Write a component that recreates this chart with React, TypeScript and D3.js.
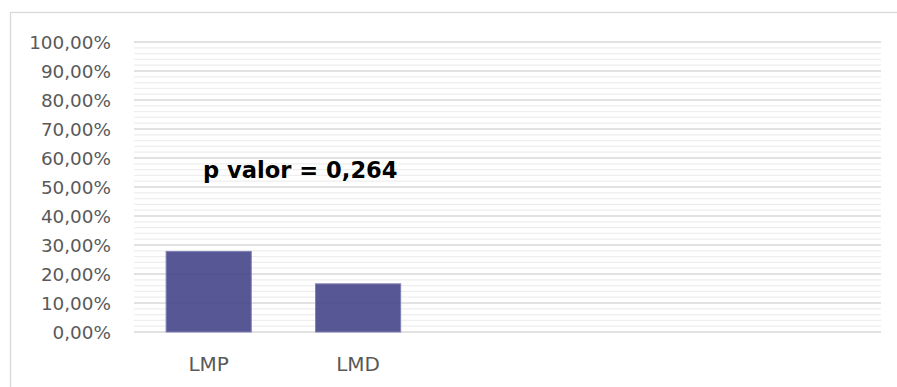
import React, { useEffect, useRef } from 'react';
import * as d3 from 'd3';

// chart data
const categories = ['LMP', 'LMD', '', '', ''];
const values = [0.278, 0.166];
const yTicks = [0, 0.1, 0.2, 0.3, 0.4, 0.5, 0.6, 0.7, 0.8, 0.9, 1.0];
const annotation = 'p valor = 0,264';

const W = 897;
const H = 387;

const App: React.FC = () => {
  const svgRef = useRef<SVGSVGElement>(null);

  useEffect(() => {
    if (!svgRef.current) return;
    const svg = d3.select(svgRef.current);
    svg.selectAll('*').remove();

    const margin = { top: 42, right: 16, bottom: 55, left: 134 };
    const font = '"DejaVu Sans", sans-serif';

    // chart frame
    svg.append('rect')
      .attr('x', 10.5)
      .attr('y', 12.5)
      .attr('width', W + 10)
      .attr('height', H + 10)
      .attr('fill', '#ffffff')
      .attr('stroke', '#d9d9d9')
      .attr('stroke-width', 1.3);

    const x = d3.scaleBand<number>()
      .domain(d3.range(categories.length))
      .range([margin.left, W - margin.right])
      .paddingInner(0.43)
      .paddingOuter(0.215);

    const y = d3.scaleLinear()
      .domain([0, 1])
      .range([H - margin.bottom, margin.top]);

    const loc = d3.formatLocale({ decimal: ',', thousands: '.', grouping: [3], currency: ['', '€'] });
    const fmt = loc.format('.2%');

    // minor gridlines every 2%
    const minor = d3.range(0, 1.0001, 0.02).filter((v) => Math.abs(Math.round(v * 10) - v * 10) > 1e-6);
    svg.append('g')
      .selectAll('line')
      .data(minor)
      .enter()
      .append('line')
      .attr('x1', margin.left)
      .attr('x2', W - margin.right)
      .attr('y1', (d) => y(d))
      .attr('y2', (d) => y(d))
      .attr('stroke', '#eeeeee')
      .attr('stroke-width', 1.2);

    // major gridlines
    svg.append('g')
      .selectAll('line')
      .data(yTicks)
      .enter()
      .append('line')
      .attr('x1', margin.left)
      .attr('x2', W - margin.right)
      .attr('y1', (d) => y(d))
      .attr('y2', (d) => y(d))
      .attr('stroke', '#d9d9d9')
      .attr('stroke-width', 1.3);

    // y tick labels
    svg.append('g')
      .selectAll('text')
      .data(yTicks)
      .enter()
      .append('text')
      .attr('x', 111)
      .attr('y', (d) => y(d))
      .attr('dy', '0.36em')
      .attr('text-anchor', 'end')
      .attr('fill', '#595959')
      .style('font-family', font)
      .style('font-size', '18.4px')
      .text((d) => fmt(d));

    // bars
    svg.append('g')
      .selectAll('rect')
      .data(values)
      .enter()
      .append('rect')
      .attr('x', (_, i) => x(i) as number)
      .attr('y', (d) => y(d))
      .attr('width', x.bandwidth())
      .attr('height', (d) => y(0) - y(d))
      .attr('fill', '#45458a')
      .attr('fill-opacity', 0.9)
      .attr('stroke', '#8080b8')
      .attr('stroke-width', 1);

    // category labels
    svg.append('g')
      .selectAll('text')
      .data(categories)
      .enter()
      .append('text')
      .attr('x', (_, i) => (x(i) as number) + x.bandwidth() / 2)
      .attr('y', H - 16)
      .attr('text-anchor', 'middle')
      .attr('fill', '#595959')
      .style('font-family', font)
      .style('font-size', '20px')
      .text((d) => d);

    // p value annotation
    svg.append('text')
      .attr('x', 203)
      .attr('y', 178)
      .attr('fill', '#000000')
      .style('font-family', font)
      .style('font-size', '22.6px')
      .style('font-weight', 'bold')
      .text(annotation);
  }, []);

  return (
    <div style={{ position: 'absolute', left: 0, top: 0 }}>
      <svg ref={svgRef} width={W} height={H} style={{ display: 'block' }} />
    </div>
  );
};

export default App;
